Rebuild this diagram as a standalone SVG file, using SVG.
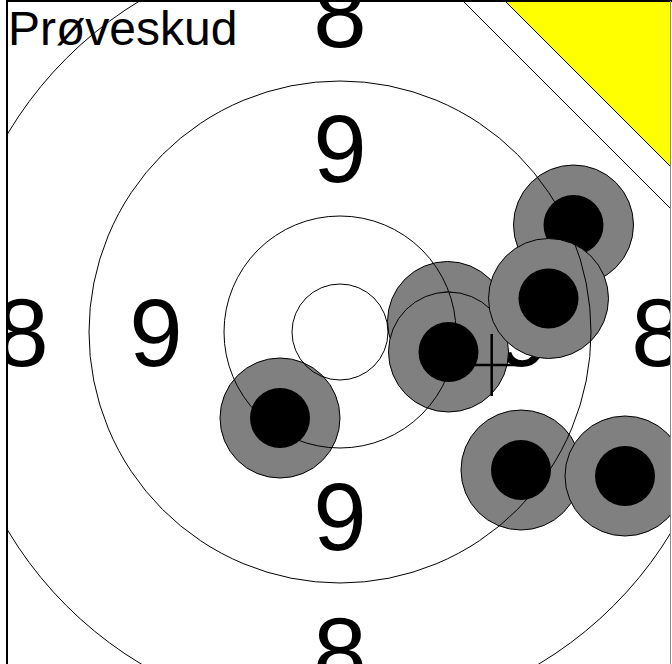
<svg xmlns="http://www.w3.org/2000/svg" width="672" height="664" viewBox="0 0 672 664">
<style>
.lbl{font-family:"Liberation Sans",Arial,sans-serif;font-size:96px;fill:#000;text-anchor:middle}
.ring{fill:none;stroke:#000;stroke-width:1}
.hole{fill:#808080;stroke:#000;stroke-width:1}
.core{fill:#000}
</style>
<defs>
<clipPath id="frame"><rect x="7" y="1" width="664" height="663"/></clipPath>
</defs>
<rect width="672" height="664" fill="#fff"/>
<g clip-path="url(#frame)">
<g id="labels">
<text class="lbl" x="340" y="47">8</text>
<text class="lbl" x="340" y="182">9</text>
<text class="lbl" x="22" y="366">8</text>
<text class="lbl" x="156" y="366">9</text>
<text class="lbl" x="524" y="366">9</text>
<text class="lbl" x="658" y="366">8</text>
<text class="lbl" x="340" y="550">9</text>
<text class="lbl" x="340" y="685">8</text>
</g>
<g id="shots">
<g id="shot1"><circle class="hole" cx="280" cy="418" r="60"/><circle class="core" cx="280" cy="418" r="30"/></g>
<g id="shot2"><circle class="hole" cx="447.5" cy="321.5" r="60"/><circle class="core" cx="447.5" cy="321.5" r="30"/></g>
<g id="shot3"><circle class="hole" cx="448.5" cy="352" r="60"/><circle class="core" cx="448.5" cy="352" r="30"/></g>
<g id="shot4"><circle class="hole" cx="573.5" cy="225" r="60"/><circle class="core" cx="573.5" cy="225" r="30"/></g>
<g id="shot5"><circle class="hole" cx="548.5" cy="298.5" r="60"/><circle class="core" cx="548.5" cy="298.5" r="30"/></g>
<g id="shot6"><circle class="hole" cx="521" cy="470" r="60"/><circle class="core" cx="521" cy="470" r="30"/></g>
<g id="shot7"><circle class="hole" cx="625" cy="476" r="60"/><circle class="core" cx="625" cy="476" r="30"/></g>
</g>
<g id="rings">
<circle class="ring" cx="340" cy="332" r="48"/>
<circle class="ring" cx="340" cy="332" r="116"/>
<circle class="ring" cx="340" cy="332" r="251"/>
<circle class="ring" cx="340" cy="332" r="387"/>
</g>
<g id="sighter">
<polygon points="463,1 672,1 672,210" fill="#fff" stroke="#000" stroke-width="1"/>
<polygon points="505,1 672,1 672,168" fill="#ffff00" stroke="#000" stroke-width="1"/>
</g>
<g id="mpi" stroke="#000" stroke-width="2.5">
<line x1="461" y1="365" x2="522" y2="365"/>
<line x1="491.7" y1="334" x2="491.7" y2="396"/>
</g>
<text id="title" x="8" y="45" font-family="'Liberation Sans',Arial,sans-serif" font-size="48" fill="#000">Prøveskud</text>
</g>
<g id="border" stroke="#000" fill="none">
<line x1="7" y1="0" x2="7" y2="664" stroke-width="2"/>
<line x1="6" y1="1" x2="672" y2="1" stroke-width="2"/>
<line x1="670.5" y1="1" x2="670.5" y2="664" stroke-width="1" stroke="#888"/>
</g>
</svg>
